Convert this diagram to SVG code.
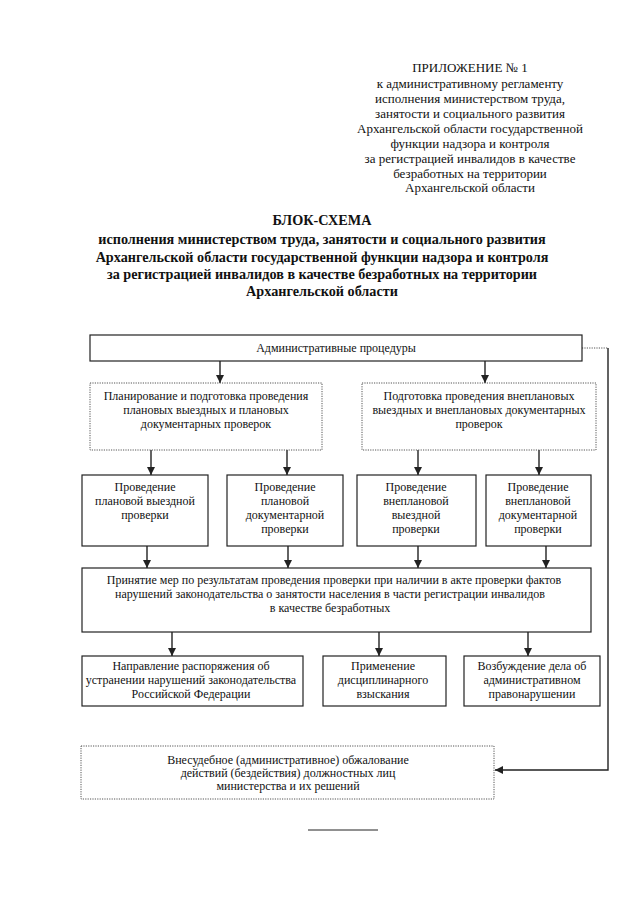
<svg xmlns="http://www.w3.org/2000/svg" width="640" height="905" viewBox="0 0 640 905">
<style>
text{font-family:"Liberation Serif","Times New Roman",serif;fill:#111;text-anchor:middle}
.hd{font-size:13px}
.ti{font-size:14.2px;font-weight:bold}
.bx{font-size:12px}
.solid{fill:#fff;stroke:#222;stroke-width:1.2}
.dot{fill:#fff;stroke:#555;stroke-width:1;stroke-dasharray:1.2,1.2}
.con{fill:none;stroke:#222;stroke-width:1.4}
.dcon{fill:none;stroke:#555;stroke-width:1;stroke-dasharray:1.2,1.2}
</style>
<defs>
<marker id="arr" markerUnits="userSpaceOnUse" markerWidth="8" markerHeight="8" refX="8" refY="4" orient="auto">
<path d="M0,0 L8,4 L0,8 z" fill="#222"/>
</marker>
</defs>
<rect width="640" height="905" fill="#fff"/>
<g id="header">
<text class="hd" x="470" y="72">ПРИЛОЖЕНИЕ № 1</text>
<text class="hd" x="470" y="88">к административному регламенту</text>
<text class="hd" x="470" y="103">исполнения министерством труда,</text>
<text class="hd" x="470" y="118">занятости и социального развития</text>
<text class="hd" x="470" y="133">Архангельской области государственной</text>
<text class="hd" x="470" y="148">функции надзора и контроля</text>
<text class="hd" x="470" y="163">за регистрацией инвалидов в качестве</text>
<text class="hd" x="470" y="178">безработных на территории</text>
<text class="hd" x="470" y="192">Архангельской области</text>
</g>
<g id="title">
<text class="ti" x="322" y="225">БЛОК-СХЕМА</text>
<text class="ti" x="322" y="244">исполнения министерством труда, занятости и социального развития</text>
<text class="ti" x="322" y="262">Архангельской области государственной функции надзора и контроля</text>
<text class="ti" x="322" y="279">за регистрацией инвалидов в качестве безработных на территории</text>
<text class="ti" x="322" y="296">Архангельской области</text>
</g>
<g id="connectors">
<line class="con" x1="220" y1="361" x2="220" y2="383" marker-end="url(#arr)"/>
<line class="con" x1="485" y1="361" x2="485" y2="383" marker-end="url(#arr)"/>
<line class="con" x1="151" y1="450" x2="151" y2="475" marker-end="url(#arr)"/>
<line class="con" x1="287" y1="450" x2="287" y2="475" marker-end="url(#arr)"/>
<line class="con" x1="418" y1="450" x2="418" y2="475" marker-end="url(#arr)"/>
<line class="con" x1="539" y1="450" x2="539" y2="475" marker-end="url(#arr)"/>
<line class="con" x1="147" y1="546" x2="147" y2="568" marker-end="url(#arr)"/>
<line class="con" x1="288" y1="546" x2="288" y2="568" marker-end="url(#arr)"/>
<line class="con" x1="418" y1="546" x2="418" y2="568" marker-end="url(#arr)"/>
<line class="con" x1="546" y1="546" x2="546" y2="568" marker-end="url(#arr)"/>
<line class="con" x1="172" y1="632" x2="172" y2="656" marker-end="url(#arr)"/>
<line class="con" x1="379" y1="632" x2="379" y2="656" marker-end="url(#arr)"/>
<line class="con" x1="528" y1="632" x2="528" y2="656" marker-end="url(#arr)"/>
<line class="dcon" x1="582" y1="348" x2="608" y2="348"/>
<polyline class="con" points="608,348 608,770 495,770" marker-end="url(#arr)"/>
</g>
<g id="n-admin">
<rect class="solid" x="90" y="335" width="492" height="26"/>
<text class="bx" x="336" y="352">Административные процедуры</text>
</g>
<g id="n-plan">
<rect class="dot" x="90" y="383" width="232" height="67"/>
<text class="bx" x="206" y="400">Планирование и подготовка проведения</text>
<text class="bx" x="206" y="414">плановых выездных и плановых</text>
<text class="bx" x="206" y="428">документарных проверок</text>
</g>
<g id="n-unplan">
<rect class="dot" x="362" y="383" width="234" height="67"/>
<text class="bx" x="479" y="400">Подготовка проведения внеплановых</text>
<text class="bx" x="479" y="414">выездных и внеплановых документарных</text>
<text class="bx" x="479" y="428">проверок</text>
</g>
<g id="n-b1">
<rect class="solid" x="82" y="475" width="126" height="71"/>
<text class="bx" x="145" y="491">Проведение</text>
<text class="bx" x="145" y="505">плановой выездной</text>
<text class="bx" x="145" y="519">проверки</text>
</g>
<g id="n-b2">
<rect class="solid" x="227" y="475" width="116" height="71"/>
<text class="bx" x="285" y="491">Проведение</text>
<text class="bx" x="285" y="505">плановой</text>
<text class="bx" x="285" y="519">документарной</text>
<text class="bx" x="285" y="533">проверки</text>
</g>
<g id="n-b3">
<rect class="solid" x="357" y="475" width="119" height="71"/>
<text class="bx" x="416" y="491">Проведение</text>
<text class="bx" x="416" y="505">внеплановой</text>
<text class="bx" x="416" y="519">выездной</text>
<text class="bx" x="416" y="533">проверки</text>
</g>
<g id="n-b4">
<rect class="solid" x="486" y="475" width="105" height="71"/>
<text class="bx" x="538" y="491">Проведение</text>
<text class="bx" x="538" y="505">внеплановой</text>
<text class="bx" x="538" y="519">документарной</text>
<text class="bx" x="538" y="533">проверки</text>
</g>
<g id="n-measures">
<rect class="solid" x="82" y="568" width="509" height="64"/>
<text class="bx" x="334" y="584">Принятие мер по результатам проведения проверки при наличии в акте проверки фактов</text>
<text class="bx" x="330" y="598">нарушений законодательства о занятости населения в части регистрации инвалидов</text>
<text class="bx" x="330" y="612">в качестве безработных</text>
</g>
<g id="n-order">
<rect class="solid" x="82" y="656" width="221" height="50"/>
<text class="bx" x="191" y="670">Направление распоряжения об</text>
<text class="bx" x="191" y="684">устранении нарушений законодательства</text>
<text class="bx" x="191" y="698">Российской Федерации</text>
</g>
<g id="n-disc">
<rect class="solid" x="323" y="656" width="123" height="50"/>
<text class="bx" x="383" y="670">Применение</text>
<text class="bx" x="383" y="684">дисциплинарного</text>
<text class="bx" x="383" y="698">взыскания</text>
</g>
<g id="n-case">
<rect class="solid" x="464" y="656" width="136" height="50"/>
<text class="bx" x="532" y="670">Возбуждение дела об</text>
<text class="bx" x="532" y="684">административном</text>
<text class="bx" x="532" y="698">правонарушении</text>
</g>
<g id="n-appeal">
<rect class="dot" x="81" y="746" width="413" height="53"/>
<text class="bx" x="288" y="764">Внесудебное (административное) обжалование</text>
<text class="bx" x="288" y="777">действий (бездействия) должностных лиц</text>
<text class="bx" x="288" y="790">министерства и их решений</text>
</g>
<line x1="308" y1="830" x2="378" y2="830" stroke="#222" stroke-width="1"/>
</svg>
